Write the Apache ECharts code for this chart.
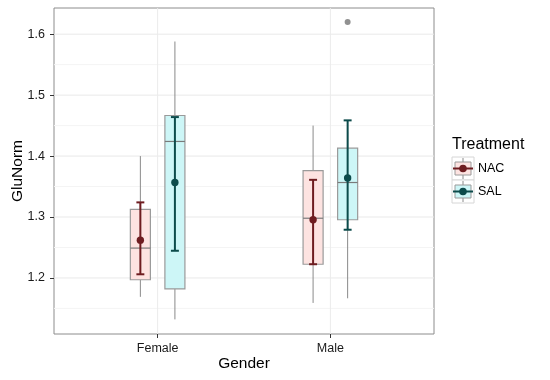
<!DOCTYPE html>
<html>
<head>
<meta charset="utf-8">
<script src="https://cdn.jsdelivr.net/npm/echarts@6/dist/echarts.min.js"></script>
<style>
html,body{margin:0;padding:0;background:#fff;}
#chart{width:550px;height:380px;}
</style>
</head>
<body>
<div id="chart"></div>
<script>
// ---- Data ----
const genders = ['Female', 'Male'];
const treatments = ['NAC', 'SAL'];
const yTicks = [1.2, 1.3, 1.4, 1.5, 1.6];
const yMinorGrid = [1.15, 1.25, 1.35, 1.45, 1.55];

// NAC (per gender)
const nacWhiskerLow  = [1.169, 1.159];
const nacQ1          = [1.197, 1.2225];
const nacMedian      = [1.249, 1.298];
const nacQ3          = [1.3125, 1.376];
const nacWhiskerHigh = [1.400, 1.450];
const nacMean        = [1.262, 1.2955];
const nacErrLow      = [1.206, 1.2225];
const nacErrHigh     = [1.324, 1.361];
const nacOutliers    = [[], []];

// SAL (per gender)
const salWhiskerLow  = [1.132, 1.1666];
const salQ1          = [1.182, 1.2955];
const salMedian      = [1.424, 1.3566];
const salQ3          = [1.4666, 1.413];
const salWhiskerHigh = [1.588, 1.44];
const salMean        = [1.3566, 1.364];
const salErrLow      = [1.2446, 1.2791];
const salErrHigh     = [1.464, 1.4586];
const salOutliers    = [[], [1.620]];

// ---- Build ----
function rows(wl, q1, md, q3, wh, mn, el, eh) {
  return genders.map((g, i) => [i, wl[i], q1[i], md[i], q3[i], wh[i], mn[i], el[i], eh[i]]);
}
const nacRows = rows(nacWhiskerLow, nacQ1, nacMedian, nacQ3, nacWhiskerHigh, nacMean, nacErrLow, nacErrHigh);
const salRows = rows(salWhiskerLow, salQ1, salMedian, salQ3, salWhiskerHigh, salMean, salErrLow, salErrHigh);

const styles = {
  NAC: { fill: '#fde3e1', dark: '#6e1c20', offset: -0.1 },
  SAL: { fill: '#cdf6f7', dark: '#0c4b4b', offset: 0.1 }
};
const boxW = 0.116, capW = 0.046;

function makeBoxRender(st) {
  return function (params, api) {
    const x = api.value(0) + 1 + st.offset;
    const p = (v) => api.coord([x, v]);
    const half = api.size([boxW, 0])[0] / 2;
    const capHalf = api.size([capW, 0])[0] / 2;
    const cx = p(0)[0];
    const yWL = p(api.value(1))[1], yQ1 = p(api.value(2))[1], yMd = p(api.value(3))[1],
          yQ3 = p(api.value(4))[1], yWH = p(api.value(5))[1], yMn = p(api.value(6))[1],
          yEL = p(api.value(7))[1], yEH = p(api.value(8))[1];
    const gray = '#8a8a8a';
    return {
      type: 'group',
      children: [
        { type: 'line', shape: { x1: cx, y1: yQ3, x2: cx, y2: yWH }, style: { stroke: gray, lineWidth: 1 } },
        { type: 'line', shape: { x1: cx, y1: yQ1, x2: cx, y2: yWL }, style: { stroke: gray, lineWidth: 1 } },
        { type: 'rect', shape: { x: cx - half, y: yQ3, width: 2 * half, height: yQ1 - yQ3 },
          style: { fill: st.fill, stroke: '#9a9a9a', lineWidth: 1.2 } },
        { type: 'line', shape: { x1: cx - half, y1: yMd, x2: cx + half, y2: yMd }, style: { stroke: '#7a7a7a', lineWidth: 1.2 } },
        { type: 'line', shape: { x1: cx, y1: yEL, x2: cx, y2: yEH }, style: { stroke: st.dark, lineWidth: 2 } },
        { type: 'line', shape: { x1: cx - capHalf, y1: yEH, x2: cx + capHalf, y2: yEH }, style: { stroke: st.dark, lineWidth: 2 } },
        { type: 'line', shape: { x1: cx - capHalf, y1: yEL, x2: cx + capHalf, y2: yEL }, style: { stroke: st.dark, lineWidth: 2 } },
        { type: 'circle', shape: { cx: cx, cy: yMn, r: 3.7 }, style: { fill: st.dark } }
      ]
    };
  };
}

function outlierData(outs, st) {
  const d = [];
  outs.forEach((arr, gi) => arr.forEach(v => d.push([gi + 1 + st.offset, v])));
  return d;
}

// gridlines: [kind, value] kind 0 = major horizontal, 1 = minor horizontal, 2 = major vertical
const gridData = []
  .concat(yTicks.map(v => [0, v]))
  .concat(yMinorGrid.map(v => [1, v]))
  .concat(genders.map((g, i) => [2, i + 1]));

function renderGrid(params, api) {
  const cs = params.coordSys;
  const kind = api.value(0), v = api.value(1);
  if (kind === 2) {
    const x = api.coord([v, 1.3])[0];
    return { type: 'line', shape: { x1: x, y1: cs.y, x2: x, y2: cs.y + cs.height },
      style: { stroke: '#ebebeb', lineWidth: 1 } };
  }
  const y = api.coord([1, v])[1];
  return { type: 'line', shape: { x1: cs.x, y1: y, x2: cs.x + cs.width, y2: y },
    style: { stroke: kind === 0 ? '#e9e9e9' : '#f4f4f4', lineWidth: 1 } };
}

const chart = echarts.init(document.getElementById('chart'), null, { renderer: 'canvas' });

const textFont = 'Liberation Sans, Arial, sans-serif';

function legendKey(top, st, label) {
  const kx = 452, ky = top, kw = 22, kh = 23;
  const cx = kx + kw / 2, cy = ky + kh / 2;
  return [
    { type: 'rect', shape: { x: kx, y: ky, width: kw, height: kh }, style: { fill: '#fff', stroke: '#d6d6d6', lineWidth: 1 } },
    { type: 'line', shape: { x1: cx, y1: ky + 1, x2: cx, y2: ky + kh - 1 }, style: { stroke: '#8a8a8a', lineWidth: 1 } },
    { type: 'rect', shape: { x: kx + 3, y: ky + 5, width: kw - 6, height: kh - 10 }, style: { fill: st.fill, stroke: '#9a9a9a', lineWidth: 1 } },
    { type: 'line', shape: { x1: kx + 1, y1: cy, x2: kx + kw - 1, y2: cy }, style: { stroke: st.dark, lineWidth: 2 } },
    { type: 'circle', shape: { cx: cx, cy: cy, r: 3.8 }, style: { fill: st.dark } },
    { type: 'text', x: kx + kw + 4, y: cy, style: { text: label, fontSize: 12.5, fontFamily: textFont, fill: '#000', textVerticalAlign: 'middle', verticalAlign: 'middle' } }
  ];
}

chart.setOption({
  animation: false,
  backgroundColor: '#fff',
  grid: { left: 54, right: 116, top: 8, bottom: 46, show: true, borderColor: '#8c8c8c', borderWidth: 1, backgroundColor: '#fff', containLabel: false, outerBoundsMode: 'none' },
  xAxis: {
    type: 'value', min: 0.4, max: 2.6,
    axisLine: { show: false },
    splitLine: { show: false },
    axisTick: { show: true, customValues: [1, 2], length: 4, lineStyle: { color: '#333' } },
    axisLabel: { customValues: [1, 2], formatter: v => genders[Math.round(v) - 1] || '', color: '#1a1a1a', fontSize: 12.5, margin: 8, fontFamily: textFont },
    name: 'Gender', nameLocation: 'middle', nameGap: 22, nameMoveOverlap: false,
    nameTextStyle: { fontSize: 15.5, color: '#000', fontFamily: textFont }
  },
  yAxis: {
    type: 'value', min: 1.108, max: 1.643,
    axisLine: { show: false },
    splitLine: { show: false },
    axisTick: { show: true, customValues: yTicks, length: 4, lineStyle: { color: '#333' } },
    axisLabel: { customValues: yTicks, formatter: v => v.toFixed(1), color: '#1a1a1a', fontSize: 12.5, margin: 9, fontFamily: textFont },
    name: 'GluNorm', nameLocation: 'middle', nameGap: 28, nameRotate: 90, nameMoveOverlap: false,
    nameTextStyle: { fontSize: 15.5, color: '#000', fontFamily: textFont }
  },
  graphic: [
    { type: 'text', left: 452, top: 137, style: { text: 'Treatment', fontSize: 16, fontFamily: textFont, fill: '#000' } }
  ].concat(legendKey(157, styles.NAC, 'NAC')).concat(legendKey(180, styles.SAL, 'SAL')),
  series: [
    { type: 'custom', name: 'grid', silent: true, z: 0, clip: true, renderItem: renderGrid, data: gridData },
    { type: 'custom', name: 'NAC', z: 2, renderItem: makeBoxRender(styles.NAC), data: nacRows },
    { type: 'custom', name: 'SAL', z: 2, renderItem: makeBoxRender(styles.SAL), data: salRows },
    { type: 'scatter', name: 'NAC outliers', z: 3, symbolSize: 6, itemStyle: { color: '#757575' }, data: outlierData(nacOutliers, styles.NAC) },
    { type: 'scatter', name: 'SAL outliers', z: 3, symbolSize: 6, itemStyle: { color: '#757575' }, data: outlierData(salOutliers, styles.SAL) }
  ]
});
</script>
</body>
</html>
